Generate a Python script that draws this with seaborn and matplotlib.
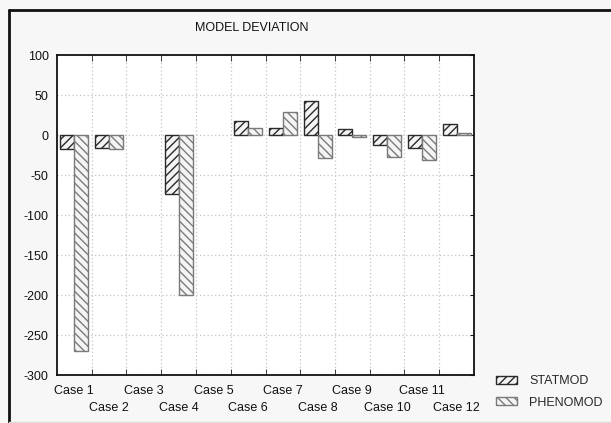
import numpy as np
import pandas as pd
import matplotlib
matplotlib.use("Agg")
import matplotlib.pyplot as plt
from matplotlib.lines import Line2D
from matplotlib.ticker import FixedLocator
import seaborn as sns

# Deviation of each model per case (blank cases have no value)
cases = [f"Case {i}" for i in range(1, 13)]
statmod = [-17, -16, np.nan, -74, np.nan, 18, 9, 43, 7, -13, -16, 14]
phenomod = [-270, -18, np.nan, -200, np.nan, 9, 29, -29, -2, -27, -31, 2]
models = ["STATMOD", "PHENOMOD"]
yticks = [100, 50, 0, -50, -100, -150, -200, -250, -300]

df = pd.DataFrame({
    "case": cases * 2,
    "model": [models[0]] * len(cases) + [models[1]] * len(cases),
    "value": statmod + phenomod,
})

sns.set_style("white")
plt.rcParams["font.family"] = ["Liberation Sans", "DejaVu Sans"]
plt.rcParams["hatch.linewidth"] = 1.0

fig = plt.figure(figsize=(6.11, 4.23), dpi=100, facecolor="#f7f7f7")
ax = fig.add_axes([57 / 611, 48 / 423, 417 / 611, 320 / 423])
ax.set_facecolor("white")

sns.barplot(data=df, x="case", y="value", hue="model", order=cases,
            hue_order=models, palette=["#f4f4f4", "#f4f4f4"],
            width=0.8, dodge=True, errorbar=None, legend=False, ax=ax,
            zorder=3)

styles = [("////", "#2a2a2a"), ("\\\\\\\\", "#7a7a7a")]
for cont, (hatch, edge) in zip(ax.containers, styles):
    for p in cont.patches:
        p.set_hatch(hatch)
        p.set_edgecolor(edge)
        p.set_linewidth(1.0)

ax.set_xlim(-0.5, len(cases) - 0.5)
ax.set_ylim(-300, 100)
ax.set_yticks(yticks)
ax.set_yticklabels([str(v) for v in yticks])
ax.set_xlabel("")
ax.set_ylabel("")

# Grid on category boundaries and value ticks
bounds = np.arange(0.5, len(cases) - 0.5, 1.0)
ax.xaxis.set_minor_locator(FixedLocator(bounds))
ax.grid(False)
ax.grid(True, which="minor", axis="x", color="#c4c4c4", linestyle=(0, (1, 2)), linewidth=0.9, zorder=0)
ax.grid(True, which="major", axis="y", color="#c4c4c4", linestyle=(0, (1, 2)), linewidth=0.9, zorder=0)
ax.set_axisbelow(True)

ax.tick_params(axis="x", which="major", length=0, labelsize=9, colors="#111111")
ax.tick_params(axis="x", which="minor", direction="in", length=4, top=True, bottom=True, color="#222222")
ax.tick_params(axis="y", which="major", direction="in", length=3, left=False, right=True,
               pad=6, labelsize=9, colors="#111111")
ax.tick_params(axis="y", which="major", color="#222222")

# Staggered case labels on two rows
for i, tick in enumerate(ax.xaxis.get_major_ticks()):
    tick.set_pad(7 if i % 2 == 0 else 19.5)

for side in ["left", "bottom", "right", "top"]:
    ax.spines[side].set_visible(True)
    ax.spines[side].set_color("#111111")
    ax.spines[side].set_linewidth(1.3)

fig.text(252 / 611, 1 - 28 / 423, "MODEL DEVIATION", ha="center", va="center",
         fontsize=9, color="#111111")

leg = ax.legend(handles=ax.containers, labels=models, loc="center left",
                bbox_to_anchor=(1.04, -0.053), frameon=False, fontsize=9,
                handlelength=1.7, handleheight=0.6, handletextpad=1.0,
                labelspacing=0.75, borderaxespad=0)

# Panel border
fig.add_artist(Line2D([9 / 611, 1], [1 - 10 / 423, 1 - 10 / 423], color="#111111", linewidth=2.0))
fig.add_artist(Line2D([9 / 611, 9 / 611], [0, 1 - 10 / 423], color="#111111", linewidth=2.0))
fig.add_artist(Line2D([9 / 611, 1], [1.5 / 423, 1.5 / 423], color="#dddddd", linewidth=1.0))

fig.savefig("out.png", dpi=100, facecolor=fig.get_facecolor())
